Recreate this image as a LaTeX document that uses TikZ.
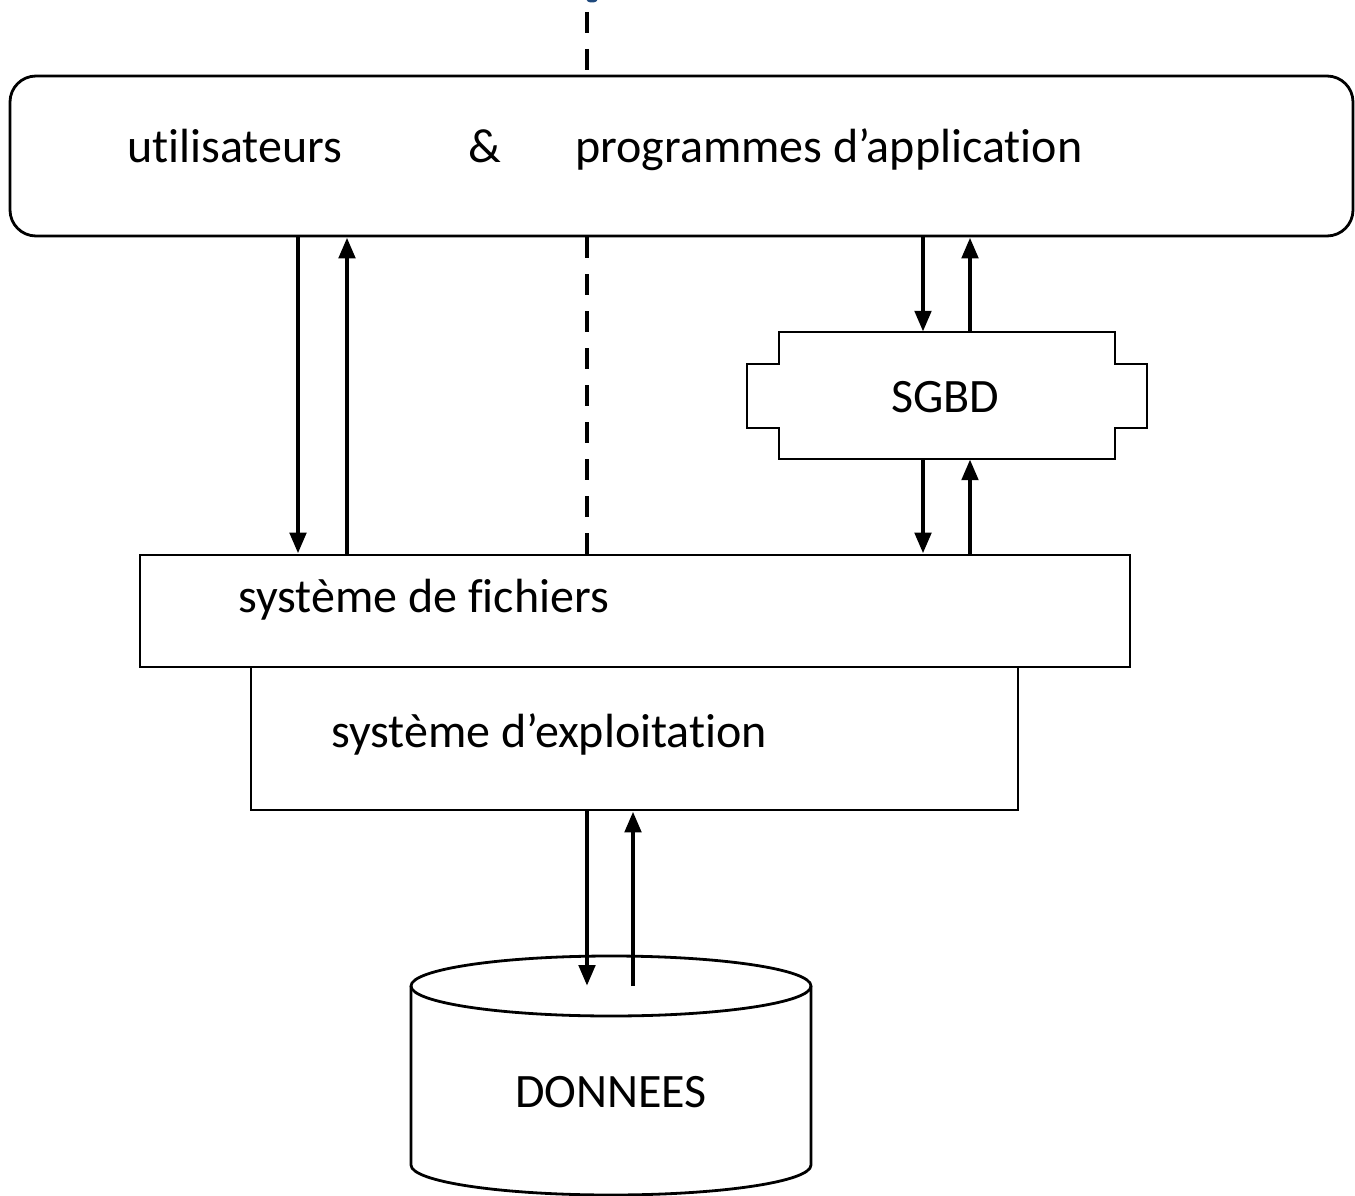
\documentclass[tikz,border=0pt]{standalone}
\usepackage{fontspec}
\setmainfont{Carlito}[Ligatures=NoCommon]
\usetikzlibrary{arrows.meta}
\definecolor{titleblue}{RGB}{31,73,125}
\tikzset{
  boxline/.style={draw=black, line width=2.8pt},
  frame/.style={boxline, rectangle, inner sep=0pt},
  lbl/.style={inner sep=0pt, font=\fontsize{48}{58}\selectfont},
  arr/.style={line width=4.8pt, -{Triangle[width=16pt,length=21pt]}},
  dashline/.style={line width=4.8pt, dash pattern=on 21pt off 16pt},
}
\begin{document}
\begin{tikzpicture}[x=1pt,y=1pt]
\useasboundingbox (0,0) rectangle (1355,-1196);
% fragment of blue text at top edge
\fill[titleblue] (592,1) ellipse [x radius=6pt, y radius=3.5pt];
% x-positions
\coordinate (c298) at (298,0);
\coordinate (c347) at (347,0);
\coordinate (c587) at (587,0);
\coordinate (c633) at (633,0);
\coordinate (c923) at (923,0);
\coordinate (c970) at (970,0);
\coordinate (topedge) at (587,-12);
% boxes
\node[frame, rounded corners=26pt, minimum width=1343pt, minimum height=160pt] (top) at (681.5,-156) {};
\node[lbl, anchor=base west] (tUsers) at (127,-163) {utilisateurs};
\node[lbl, anchor=base west] (tAmp) at (468,-163) {\&};
\node[lbl, anchor=base west] (tProg) at (575,-163) {programmes d’application};
\node[frame, minimum width=990pt, minimum height=112pt] (fich) at (635,-611) {};
\node[lbl, anchor=base west] (tFich) at (238,-612) {système de fichiers};
\node[frame, minimum width=767pt, minimum height=143pt] (expl) at (634.5,-738.5) {};
\node[lbl, anchor=base west] (tExpl) at (331,-747) {système d’exploitation};
% SGBD shape
\node[inner sep=0pt, minimum width=336pt, minimum height=127pt] (sgbd) at (947,-395.5) {};
\draw[boxline] (779,-332) -- (1115,-332) -- (1115,-364) -- (1147,-364) -- (1147,-428) -- (1115,-428)
  -- (1115,-459) -- (779,-459) -- (779,-428) -- (747,-428) -- (747,-364) -- (779,-364) -- cycle;
\node[lbl, anchor=base] (tSgbd) at (945,-412) {SGBD};
% cylinder
\coordinate (cyltop) at (611,-986);
\draw[boxline] (cyltop) ellipse [x radius=200pt, y radius=30pt];
\draw[boxline] (411,-986) -- (411,-1165) arc[start angle=180, end angle=360, x radius=200pt, y radius=30pt] -- (811,-986);
\node[lbl, anchor=base] (tDonnees) at (611,-1107) {DONNEES};
% arrows
\draw[arr] (top.south -| c298) -- (fich.north -| c298);
\draw[arr] (fich.north -| c347) -- (top.south -| c347);
\draw[arr] (top.south -| c923) -- (sgbd.north -| c923);
\draw[arr] (sgbd.north -| c970) -- (top.south -| c970);
\draw[arr] (sgbd.south -| c923) -- (fich.north -| c923);
\draw[arr] (fich.north -| c970) -- (sgbd.south -| c970);
\draw[arr] (expl.south -| c587) -- (cyltop -| c587);
\draw[arr] (cyltop -| c633) -- (expl.south -| c633);
% dashed line
\draw[dashline] (topedge) -- (top.north -| c587);
\draw[dashline] (top.south -| c587) -- (fich.north -| c587);
\end{tikzpicture}
\end{document}
